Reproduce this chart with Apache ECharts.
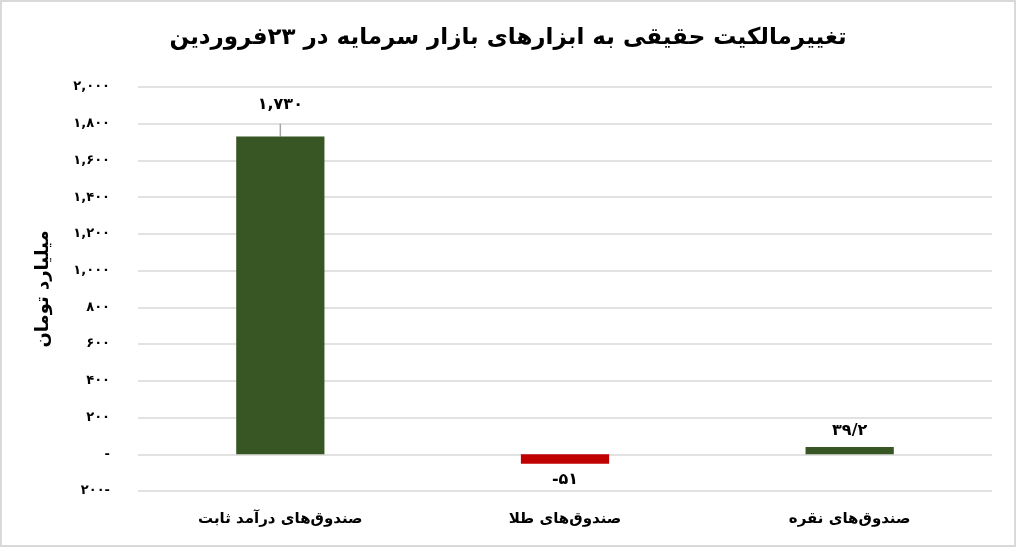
<!DOCTYPE html>
<html>
<head>
<meta charset="utf-8">
<script src="https://cdn.jsdelivr.net/npm/echarts@6/dist/echarts.min.js"></script>
<style>
  html, body { margin: 0; padding: 0; background: #fff; }
  #chart { width: 1012px; height: 543px; border: 2px solid #d9d9d9; }
</style>
</head>
<body>
<div id="chart"></div>
<script>
// داده‌ها
const categories = ['صندوق‌های درآمد ثابت', 'صندوق‌های طلا', 'صندوق‌های نقره']
const values = [1730, -51, 39.2]
const errorHigh = [1800, null, null]
const barColors = ['#375623', '#c00000', '#375623']
const yMin = -200
const yMax = 2000
const yStep = 200

const faDigits = '۰۱۲۳۴۵۶۷۸۹'
function fa(s) {
  return String(s).replace(/\d/g, d => faDigits[d])
}
function withComma(n) {
  return String(n).replace(/\B(?=(\d{3})+(?!\d))/g, ',')
}

const font = 'DejaVu Sans'
const chart = echarts.init(document.getElementById('chart'))

chart.setOption({
  animation: false,
  textStyle: { fontFamily: font },
  title: {
    text: 'تغییرمالکیت حقیقی به ابزارهای بازار سرمایه در ۲۳فروردین',
    left: 'center',
    top: 20,
    textStyle: { fontSize: 23, fontWeight: 'bold', color: '#000', fontFamily: font }
  },
  grid: { left: 136, right: 22, top: 85, bottom: 54 },
  xAxis: {
    type: 'category',
    data: categories,
    axisLine: { show: false, onZero: false },
    axisTick: { show: false },
    axisLabel: { color: '#000', fontSize: 15, fontWeight: 'bold', margin: 21, fontFamily: font }
  },
  yAxis: {
    type: 'value',
    min: yMin,
    max: yMax,
    interval: yStep,
    name: 'میلیارد تومان',
    nameLocation: 'middle',
    nameRotate: 90,
    nameGap: 86,
    nameTextStyle: { fontSize: 18, fontWeight: 'bold', color: '#000', fontFamily: font },
    axisLine: { show: false },
    axisTick: { show: false },
    splitLine: { lineStyle: { color: '#d9d9d9', width: 1.5 } },
    axisLabel: {
      color: '#000',
      fontSize: 13,
      fontWeight: 'bold',
      margin: 28,
      fontFamily: font,
      formatter: v => {
        if (v === 0) return '-'
        if (v < 0) return fa(withComma(-v)) + '-'
        return fa(withComma(v))
      }
    }
  },
  series: [
    {
      type: 'bar',
      barWidth: '31%',
      data: values.map((v, i) => ({
        value: v,
        itemStyle: { color: barColors[i] },
        label: {
          show: true,
          position: v < 0 ? 'bottom' : 'top',
          distance: errorHigh[i] != null ? 24 : 8
        }
      })),
      label: {
        color: '#000',
        fontSize: 16,
        fontWeight: 'bold',
        fontFamily: font,
        formatter: p => {
          const v = p.value
          if (v < 0) return '-' + fa(withComma(-v))
          return fa(withComma(v)).replace('.', '/')
        }
      }
    },
    {
      type: 'custom',
      silent: true,
      z: 1,
      data: errorHigh.map((h, i) => [i, values[i], h]),
      renderItem: (params, api) => {
        const high = api.value(2)
        if (high == null || isNaN(high)) return
        const p1 = api.coord([api.value(0), api.value(1)])
        const p2 = api.coord([api.value(0), high])
        return {
          type: 'line',
          shape: { x1: p1[0], y1: p1[1], x2: p2[0], y2: p2[1] },
          style: { stroke: '#a6a6a6', lineWidth: 1.5 }
        }
      }
    }
  ]
})

window.addEventListener('resize', () => {
  chart.resize()
})
</script>
</body>
</html>
